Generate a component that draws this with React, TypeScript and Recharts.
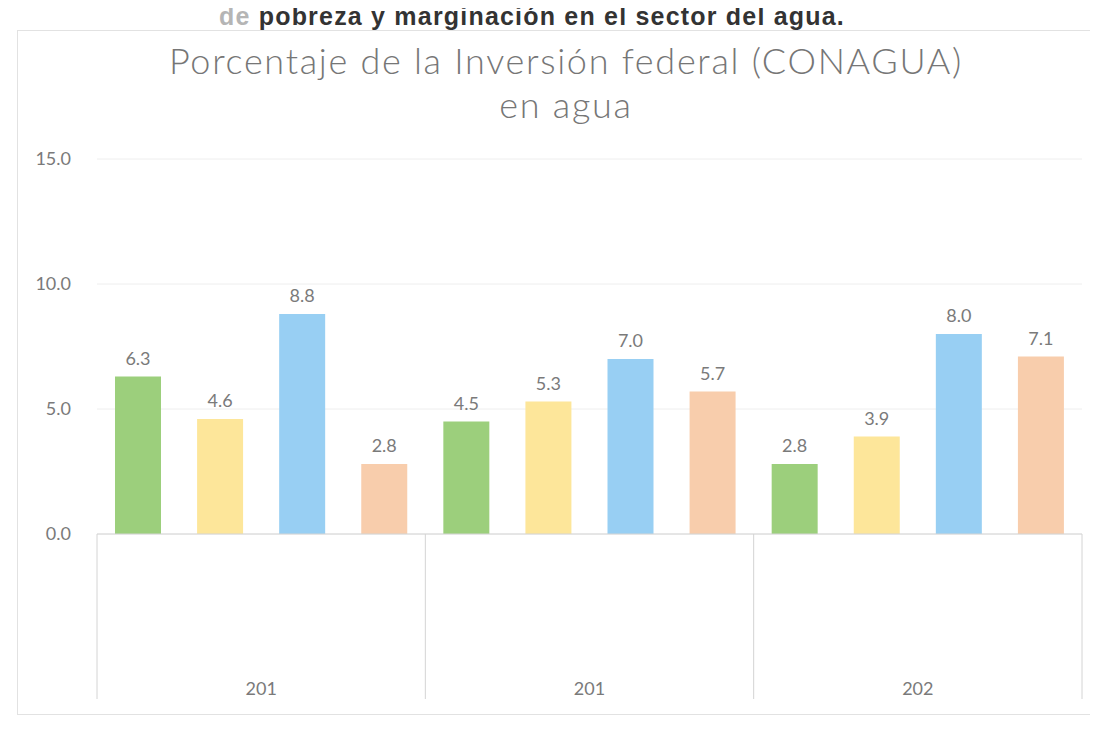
import { Bar, BarChart, CartesianGrid, Cell, LabelList, XAxis, YAxis } from 'recharts'

const groupLabels = ['201', '201', '202']
const greenValues = [6.3, 4.5, 2.8]
const yellowValues = [4.6, 5.3, 3.9]
const blueValues = [8.8, 7.0, 8.0]
const peachValues = [2.8, 5.7, 7.1]
const barColors = ['#9ccf7c', '#fde69a', '#98cff3', '#f8cdac']
const yTicks = [0, 5, 10, 15]

const seriesValues = [greenValues, yellowValues, blueValues, peachValues]

const rows = groupLabels.flatMap((group, g) =>
  seriesValues.map((values, s) => ({
    key: `${g}-${s}`,
    group,
    value: values[g],
    color: barColors[s],
  })),
)

const FONT = 'Lato, "Open Sans", sans-serif'

function GroupTick(props: any) {
  const { x, y, index, visibleTicksCount, width } = props
  const half = (width || 985) / (visibleTicksCount || 12) / 2
  const parts = []
  if (index % 4 === 0) {
    parts.push(<line key="l" x1={x - half} x2={x - half} y1={y} y2={y + 165} stroke="#d4d4d4" />)
  }
  if (index === rows.length - 1) {
    parts.push(<line key="r" x1={x + half} x2={x + half} y1={y} y2={y + 165} stroke="#d4d4d4" />)
  }
  if (index % 4 === 1) {
    parts.push(
      <text key="t" x={x + half} y={y + 161} textAnchor="middle" fill="#7a7a7a" fontSize={18} fontFamily={FONT}>
        {rows[index].group}
      </text>,
    )
  }
  return <g>{parts}</g>
}

export default function App() {
  return (
    <div
      style={{
        margin: -8,
        width: 1098,
        height: 730,
        position: 'relative',
        overflow: 'hidden',
        background: '#fff',
      }}
    >
      <div
        style={{
          position: 'absolute',
          top: 3,
          right: 253,
          fontFamily: '"Liberation Sans", Arial, sans-serif',
          fontWeight: 700,
          fontSize: 25,
          letterSpacing: 1.2,
          lineHeight: '26px',
          color: '#333333',
          whiteSpace: 'nowrap',
        }}
      >
        <span style={{ color: '#b5b5b5' }}>de </span>pobreza y marginación en el sector del agua.
      </div>
      <div
        style={{
          position: 'absolute',
          left: 17,
          top: 30,
          width: 1100,
          height: 683,
          border: '1px solid #e2e2e2',
        }}
      />
      <div
        style={{
          position: 'absolute',
          left: 0,
          width: 1132,
          top: 38,
          textAlign: 'center',
          fontFamily: FONT,
          fontWeight: 300,
          fontSize: 36,
          letterSpacing: 1.7,
          lineHeight: '44px',
          color: '#767676',
        }}
      >
        Porcentaje de la Inversión federal (CONAGUA)
        <br />
        en agua
      </div>
      <div style={{ position: 'absolute', left: 0, top: 0 }}>
        <BarChart width={1098} height={730} data={rows} margin={{ top: 159, right: 16, left: 47, bottom: 16 }}>
          <CartesianGrid vertical={false} stroke="#eeeeee" />
          <XAxis
            dataKey="key"
            interval={0}
            height={180}
            tickLine={false}
            tickSize={0}
            tickMargin={0}
            axisLine={{ stroke: '#d4d4d4' }}
            tick={<GroupTick />}
          />
          <YAxis
            domain={[0, 15]}
            ticks={yTicks}
            width={50}
            axisLine={false}
            tickLine={false}
            tickSize={0}
            tickMargin={26}
            tickFormatter={(v: number) => v.toFixed(1)}
            tick={{ fill: '#7a7a7a', fontSize: 18, fontFamily: FONT }}
          />
          <Bar dataKey="value" barSize={46} isAnimationActive={false}>
            {rows.map((r) => (
              <Cell key={r.key} fill={r.color} />
            ))}
            <LabelList
              dataKey="value"
              position="top"
              offset={12}
              fill="#7a7a7a"
              fontSize={18}
              fontFamily={FONT}
              formatter={(v: any) => Number(v).toFixed(1)}
            />
          </Bar>
        </BarChart>
      </div>
    </div>
  )
}
